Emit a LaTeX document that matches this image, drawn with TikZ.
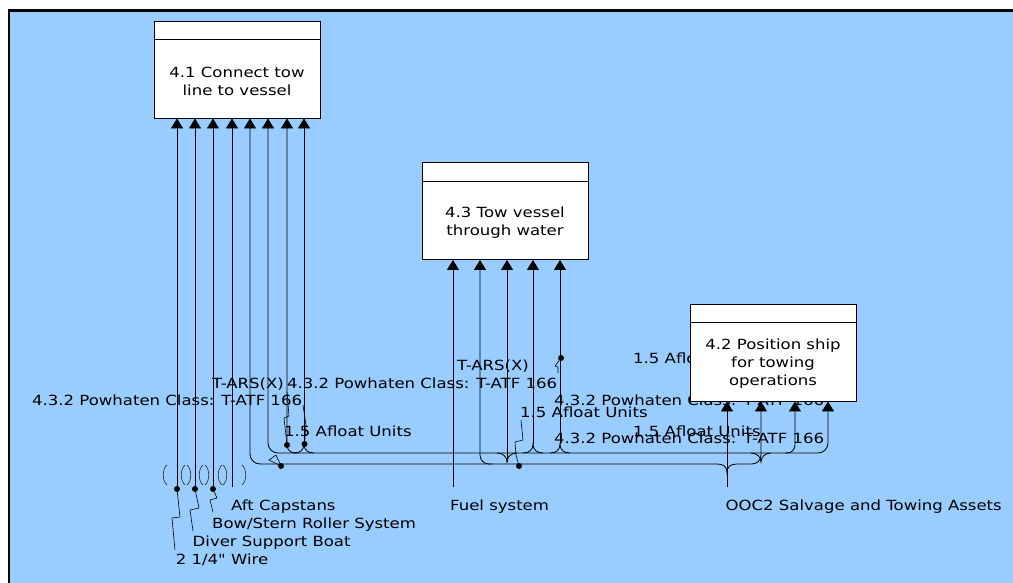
\documentclass[tikz,border=0pt]{standalone}
\usepackage{fontspec}
\setmainfont{DejaVu Sans}[FakeStretch=1.18,Ligatures=TeXOff]
\usetikzlibrary{arrows.meta,positioning}
\definecolor{bgblue}{RGB}{153,204,255}

\begin{document}
\begin{tikzpicture}[
  x=1pt,y=-1pt,
  >={Triangle[length=10pt,width=12pt]},
  funcbox/.style={draw,fill=white,line width=0.9pt,minimum width=166pt,minimum height=97pt,inner sep=0pt},
  boxtext/.style={align=center,inner sep=0pt,font=\fontsize{14}{18}\selectfont},
  lbl/.style={anchor=base west,inner sep=0pt,font=\fontsize{14}{17}\selectfont},
  wire/.style={line width=0.8pt},
  leader/.style={line width=0.6pt},
  jdot/.style={circle,fill,inner sep=0pt,minimum size=6pt},
  tunnel/.style={line width=0.7pt,draw=black!80}
]
  \useasboundingbox (0,0) rectangle (1013,583);
  \fill[bgblue] (9,10.5) rectangle (1013,583);
  \draw[line width=2.5pt] (9,583) -- (9,10.5) -- (1013,10.5);

  % arrow labels
  \node[lbl] (l1) at (32,405.7) {4.3.2 Powhaten Class: T-ATF 166};
  \node[lbl] (l2) at (212,388) {T-ARS(X)};
  \node[lbl] (l3) at (287,388) {4.3.2 Powhaten Class: T-ATF 166};
  \node[lbl] (l4) at (284,436) {1.5 Afloat Units};
  \node[lbl] (l9) at (457,370) {T-ARS(X)};
  \node[lbl] (l10) at (520,417.6) {1.5 Afloat Units};
  \node[lbl] (l11) at (554,405.7) {4.3.2 Powhaten Class: T-ATF 166};
  \node[lbl] (l12) at (554,443.7) {4.3.2 Powhaten Class: T-ATF 166};
  \node[lbl] (l13) at (633,363.7) {1.5 Afloat Units};
  \node[lbl] (l14) at (633,436) {1.5 Afloat Units};
  \node[lbl] (capstan) at (231,510) {Aft Capstans};
  \node[lbl] (roller) at (212,528) {Bow/Stern Roller System};
  \node[lbl] (diver) at (192.5,546.6) {Diver Support Boat};
  \node[lbl] (wire) at (175.7,564.5) {2 1/4" Wire};
  \node[lbl] (fuellbl) at (450,510) {Fuel system};
  \node[lbl] (ooclbl) at (725.5,510) {OOC2 Salvage and Towing Assets};

  % functions
  \node[funcbox] (b41) at (237,69.5) {};
  \node[funcbox] (b43) at (505,211) {};
  \node[funcbox] (b42) at (773,352.5) {};
  \foreach \b in {b41,b43,b42}
    \draw[line width=0.9pt] ([yshift=-19pt]\b.north west) -- ([yshift=-19pt]\b.north east);
  \node[boxtext] (t41) at (237,81) {4.1 Connect tow\\line to vessel};
  \node[boxtext] (t43) at (505,223) {4.3 Tow vessel\\through water};
  \node[boxtext] (t42) at (773,364) {4.2 Position ship\\for towing\\operations};

  % single inputs
  \coordinate (w1) at (177,489);
  \coordinate (w2) at (195,489);
  \coordinate (w3) at (213,489);
  \coordinate (w4) at (232,487);
  \coordinate (fuel) at (453,487);
  \coordinate (ooc) at (727,487);
  \foreach \w in {w1,w2,w3,w4}
    \draw[wire,->] (\w) -- (\w |- b41.south);
  \draw[wire,->] (fuel) -- (fuel |- b43.south);
  \draw[wire,->] (ooc) -- (ooc |- b42.south);

  \foreach \x in {177,195,213,232} {
    \draw[tunnel] (\x-10,465) .. controls (\x-15,469) and (\x-15,481) .. (\x-10,485);
    \draw[tunnel] (\x+10,465) .. controls (\x+15,469) and (\x+15,481) .. (\x+10,485);
  }

  % branch points
  \coordinate (brl) at (717,464);
  \coordinate (brc) at (727,473);
  \coordinate (brr) at (737,464);
  \coordinate (c250) at (250,464);
  \coordinate (c268) at (268,453);
  \coordinate (c287) at (287,453);
  \coordinate (c480) at (480,464);
  \coordinate (c761) at (761,464);
  \coordinate (c795) at (795,453);
  \coordinate (c828) at (828,453);
  \coordinate (f304) at (304,444);
  \coordinate (f533) at (533,444);
  \coordinate (f560) at (560,444);
  \coordinate (v507) at (507,462);
  \coordinate (v761) at (761,462);

  \draw[wire] (brl) .. controls (724,464) and (727,467) .. (brc) .. controls (727,467) and (730,464) .. (brr);
  \draw[wire,<-,rounded corners=10pt] (c250 |- b41.south) -- (c250) -- (brl);
  \draw[wire,->,rounded corners=9pt] (brr) -- (c761) -- (c761 |- b42.south);
  \draw[wire,<->,rounded corners=10pt] (c268 |- b41.south) -- (c268) -- (c828) -- (c828 |- b42.south);
  \draw[wire,->,rounded corners=8pt] (297,453) -- (c287) -- (c287 |- b41.south);
  \draw[wire,->,rounded corners=8pt] (785,453) -- (c795) -- (c795 |- b42.south);
  \draw[wire,->,rounded corners=9pt] (492,464) -- (c480) -- (c480 |- b43.south);
  \draw[wire,->] (f304) -- (f304 |- b41.south);
  \draw[wire,->] (f533) -- (f533 |- b43.south);
  \draw[wire,->] (f560) -- (f560 |- b43.south);
  \draw[wire,->] (v507) -- (v507 |- b43.south);
  \foreach \f in {f304,f533,f560}
    \draw[wire] ([shift={(-10,9)}]\f) .. controls ([shift={(-4,9)}]\f) and ([shift={(0,6)}]\f) .. (\f)
      .. controls ([shift={(0,6)}]\f) and ([shift={(4,9)}]\f) .. ([shift={(10,9)}]\f);
  \foreach \v in {v507,v761}
    \draw[wire] ([shift={(-10,-9)}]\v) .. controls ([shift={(-4,-9)}]\v) and ([shift={(0,-5)}]\v) .. (\v)
      .. controls ([shift={(0,-5)}]\v) and ([shift={(4,-9)}]\v) .. ([shift={(10,-9)}]\v);

  % label leaders
  \node[jdot] (d1) at (177,489) {};
  \node[jdot] (d2) at (195,489) {};
  \node[jdot] (d3) at (213,489) {};
  \node[jdot] (d4) at (287,445) {};
  \node[jdot] (d5) at (304.5,444) {};
  \node[jdot] (d6) at (281,466) {};
  \node[jdot] (d7) at (519,466) {};
  \node[jdot] (d8) at (561,358) {};
  \draw[leader] (d1) -- (180,517) -- (172,518) -- (175,550);
  \draw[leader] (d2) -- (199,508) -- (190,510) -- (193,531);
  \draw[leader] (d3) -- (217,498) -- (210,500) -- (213,512);
  \draw[leader] (d4) -- (284,418) -- (289,416) -- (287,392);
  \draw[leader] (d5) -- (306,425) -- (303,405);
  \draw[leader] (d6) -- (276,455) -- (269,460) -- (d6);
  \draw[leader] (d7) -- (516,455) -- (515,442) -- (523,440) -- (521,420);
  \draw[leader] (d8) -- (555,366) -- (558,367) -- (558,373);
\end{tikzpicture}
\end{document}
